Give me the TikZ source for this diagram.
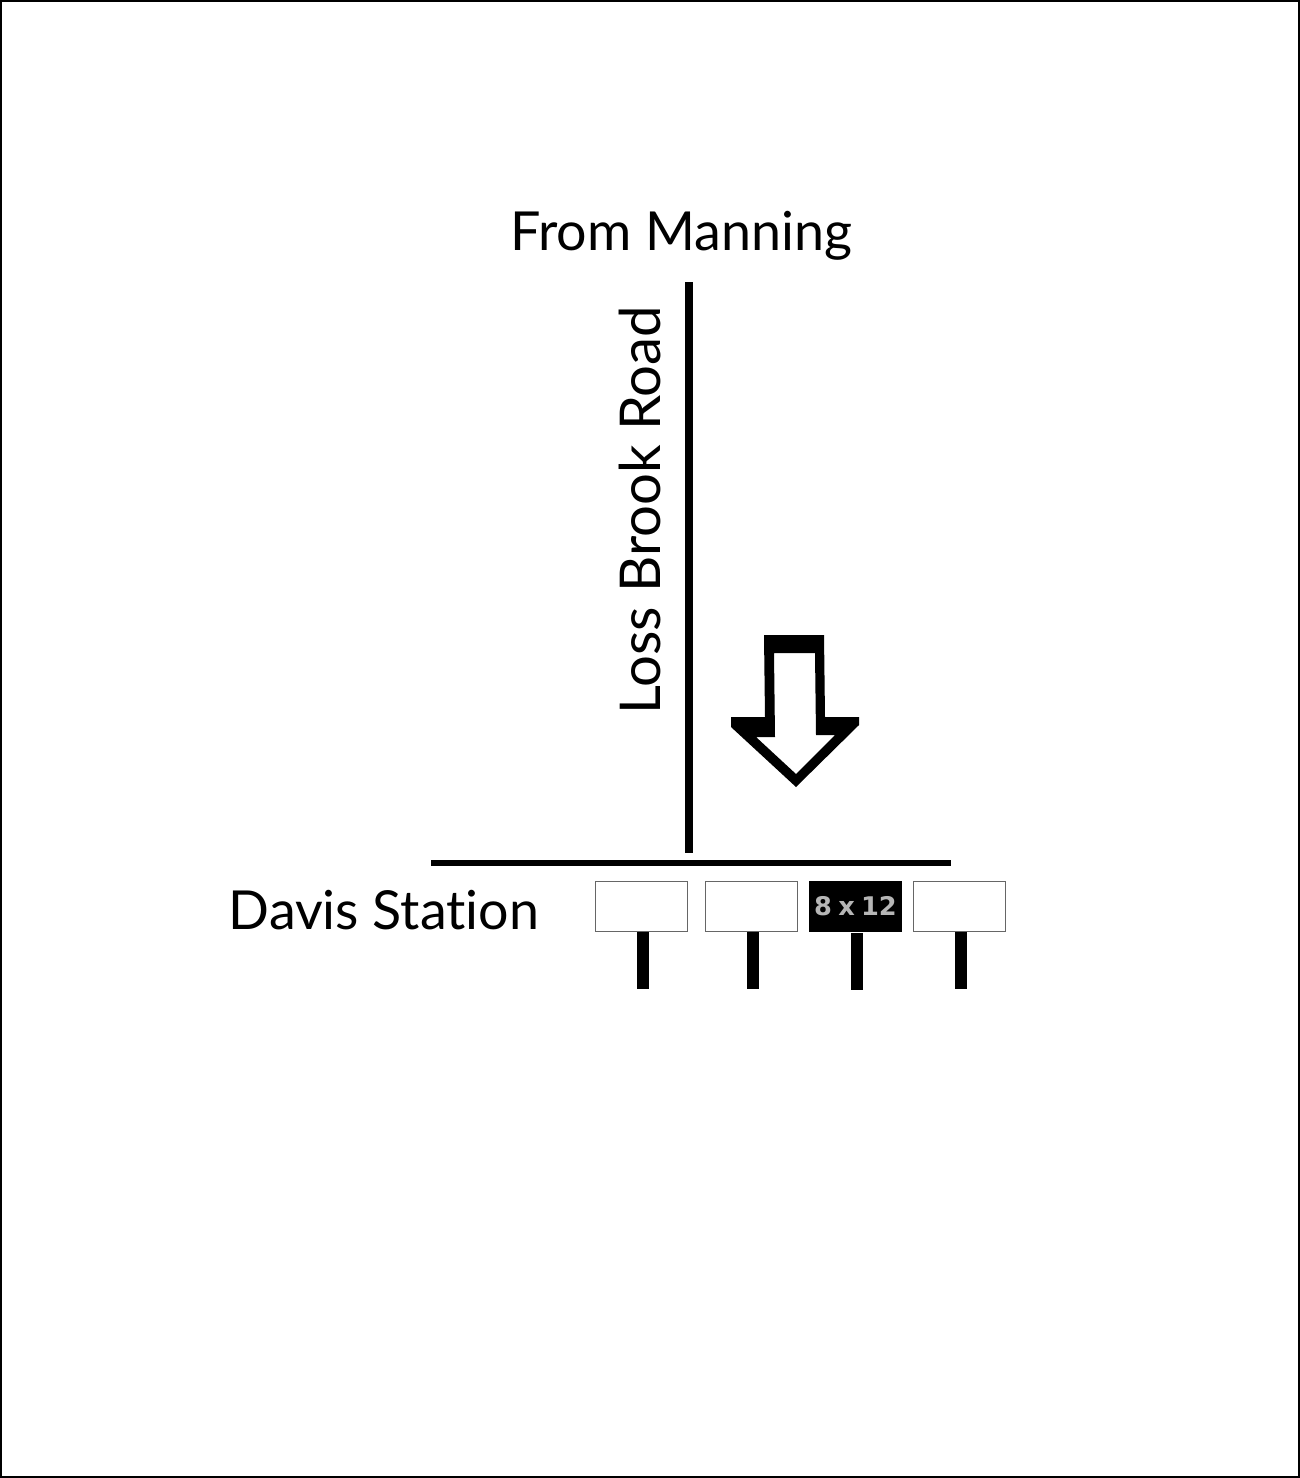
\documentclass[tikz,border=0pt]{standalone}
\usepackage{xcolor}
\usepackage{fontspec}
\setmainfont[Ligatures=NoCommon]{Lato}
\newfontfamily\signfont[WordSpace=0.7]{DejaVu Sans Bold}
\usetikzlibrary{positioning}
\definecolor{signtext}{RGB}{182,182,182}
\tikzset{
  place/.style={font=\fontsize{15.3}{16}\selectfont, inner sep=0pt},
  road/.style={line width=0.8mm, draw=black},
  crossroad/.style={line width=0.6mm, draw=black},
  sign/.style={rectangle, draw=black!60, fill=white, line width=0.1mm,
               minimum width=0.92cm, minimum height=0.50cm, inner sep=0pt},
  lotsign/.style={sign, draw=black, fill=black, text=signtext,
                  font=\signfont\fontsize{7.3}{8}\selectfont},
  post/.style={line width=1.2mm, draw=black},
}
\begin{document}
\begin{tikzpicture}[x=0.01cm, y=-0.01cm]
  % Frame
  \draw[line width=0.15mm] (1,1) rectangle (1299,1477);
  \useasboundingbox (0,0) rectangle (1300,1478);

  % Labels
  \node[place] (manning) at (681,236) {From Manning};
  \node[place, font=\fontsize{16}{17}\selectfont, rotate=90] (loss) at (640,510) {Loss Brook Road};
  \node[place] (davis) at (384,910) {Davis Station};

  % Roads
  \coordinate (lossN) at (689,282);
  \coordinate (lossS) at (689,853);
  \coordinate (davisW) at (431,863);
  \coordinate (davisE) at (951,863);
  \draw[road] (lossN) -- (lossS);
  \draw[crossroad] (davisW) -- (davisE);

  % Arrow
  \fill[even odd rule] (764,635) -- (824,635) -- (825,717) -- (859,717) -- (859,725)
    -- (796,787) -- (731,727) -- (731,717) -- (765,717) -- cycle
    (774,653) -- (815,653) -- (816,735) -- (835,735) -- (796,774)
    -- (756,737) -- (775,737) -- cycle;

  % Signs
  \node[sign] (sign1) at (641.5,906.5) {};
  \node[sign] (sign2) at (751.5,906.5) {};
  \node[lotsign] (sign3) at (855.5,906.5) {8 x 12};
  \node[sign] (sign4) at (959.5,906.5) {};

  % Posts
  \coordinate (post1) at (643,989);
  \coordinate (post2) at (753,989);
  \coordinate (post3) at (857,990);
  \coordinate (post4) at (961,989);
  \draw[post] (sign1.south -| post1) -- (post1);
  \draw[post] (sign2.south -| post2) -- (post2);
  \draw[post] ([yshift=-0.3pt] sign3.south -| post3) -- (post3);
  \draw[post] (sign4.south -| post4) -- (post4);
\end{tikzpicture}
\end{document}
